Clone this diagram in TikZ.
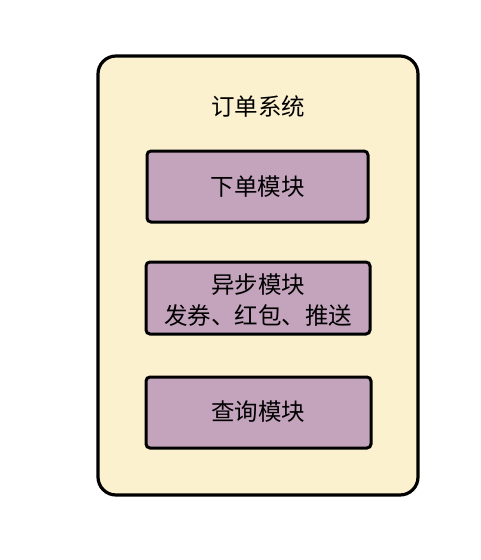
\documentclass[tikz,border=0pt]{standalone}
\usepackage{fontspec}
\newfontfamily\cjk{Noto Sans CJK SC}
\definecolor{outerfill}{HTML}{FCF1CF}
\definecolor{modfill}{HTML}{C4A3BD}
\begin{document}
\begin{tikzpicture}[x=1pt,y=-1pt,
  outerbox/.style={draw=black,line width=3.2pt,fill=outerfill,rounded corners=18pt},
  modbox/.style={draw=black,line width=3pt,fill=modfill,rounded corners=4pt},
  lbl/.style={font=\cjk\fontsize{23.5}{31}\selectfont,align=center,inner sep=0pt}]
\useasboundingbox (0,0) rectangle (480,560);
\draw[outerbox] (98,56) rectangle (418,495);
\node[lbl] (title) at (258,107) {订单系统};
\draw[modbox] (147,151) rectangle (368,222);
\node[lbl] (m1) at (257.5,187) {下单模块};
\draw[modbox] (146,262) rectangle (370,334);
\node[lbl] (m2) at (258,300) {异步模块\\发券、红包、推送};
\draw[modbox] (146,377) rectangle (371,448);
\node[lbl] (m3) at (258,412) {查询模块};
\end{tikzpicture}
\end{document}
